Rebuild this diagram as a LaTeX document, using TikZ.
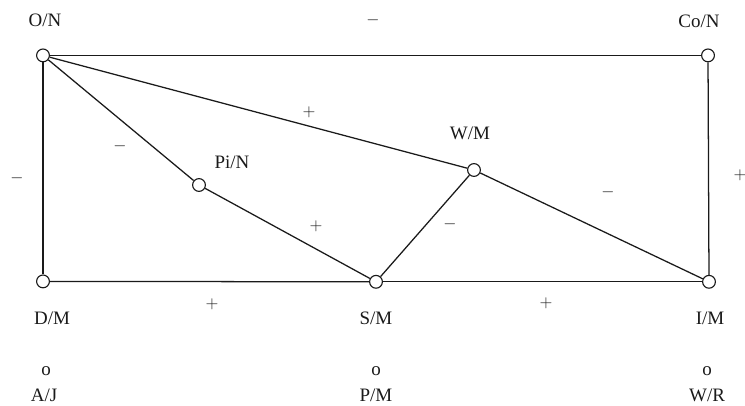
\documentclass[tikz,border=0pt]{standalone}
\usetikzlibrary{positioning,calc}
\usepackage{fontspec}
\setmainfont{Liberation Serif}
\usepackage{xcolor}
\definecolor{Ink}{HTML}{1A1A1A}
\tikzset{
 actor/.style={circle, draw=Ink, fill=white, line width=0.8pt, minimum size=0.32cm, inner sep=0pt},
 tie/.style={draw=Ink, line width=0.9pt},
 tag/.style={font=\fontsize{13.5}{15}\selectfont, text=Ink, inner sep=1pt},
 sign/.style={font=\fontsize{12}{14}\selectfont, text=Ink, inner sep=0pt}
}
\begin{document}
\begin{tikzpicture}
\useasboundingbox (0,0) rectangle (18.625,10.125);
% actors
\node[actor] (on) at (1.075,8.74) {};
\node[actor] (con) at (17.7,8.74) {};
\node[actor] (dm) at (1.075,3.09) {};
\node[actor] (sm) at (9.4,3.08) {};
\node[actor] (im) at (17.725,3.08) {};
\node[actor] (pin) at (4.975,5.5) {};
\node[actor] (wm) at (11.85,5.875) {};
% ties
\draw[tie] (on) -- (con);
\draw[tie] (on) -- (dm);
\draw[tie] (con) -- (im);
\draw[tie] (dm) -- (sm);
\draw[tie] (sm) -- (im);
\draw[tie] (on) -- (pin);
\draw[tie] (pin) -- (sm);
\draw[tie] (on) -- (wm);
\draw[tie] (wm) -- (sm);
\draw[tie] (wm) -- (im);
% names
\node[tag] (onlab) at (1.125,9.62) {O/N};
\node[tag] (conlab) at (17.475,9.58) {Co/N};
\node[tag] (dmlab) at (1.3,2.17) {D/M};
\node[tag] (smlab) at (9.4,2.17) {S/M};
\node[tag] (imlab) at (17.75,2.17) {I/M};
\node[tag] (pinlab) at (5.8,6.07) {Pi/N};
\node[tag] (wmlab) at (11.75,6.8) {W/M};
\node[tag] (ajo) at (1.15,0.84) {o};
\node[tag] (pmo) at (9.4,0.84) {o};
\node[tag] (wro) at (17.675,0.84) {o};
\node[tag] (aj) at (1.1,0.24) {A/J};
\node[tag] (pm) at (9.4,0.24) {P/M};
\node[tag] (wr) at (17.675,0.24) {W/R};
% signs
\node[sign] (s1) at (9.325,9.62) {$-$};
\node[sign] (s2) at (7.725,7.32) {$+$};
\node[sign] (s3) at (3.0,6.47) {$-$};
\node[sign] (s4) at (0.425,5.67) {$-$};
\node[sign] (s5) at (18.5,5.75) {$+$};
\node[sign] (s6) at (15.2,5.32) {$-$};
\node[sign] (s7) at (7.9,4.47) {$+$};
\node[sign] (s8) at (11.25,4.52) {$-$};
\node[sign] (s9) at (5.3,2.52) {$+$};
\node[sign] (s10) at (13.65,2.55) {$+$};
\end{tikzpicture}
\end{document}
